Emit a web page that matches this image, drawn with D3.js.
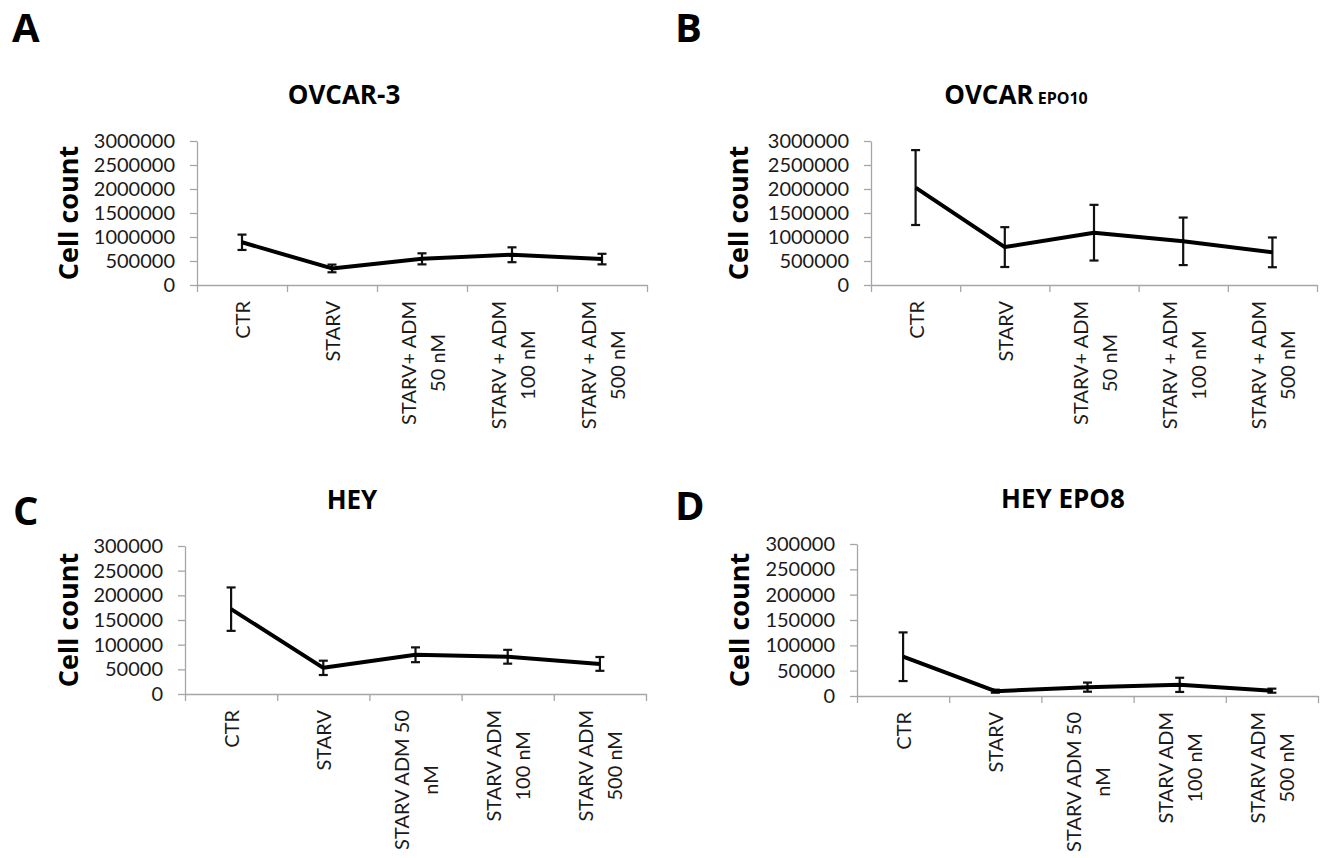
<!DOCTYPE html>
<html>
<head>
<meta charset="utf-8">
<script src="https://cdn.jsdelivr.net/npm/d3@7"></script>
<style>
  body { margin: 0; background: #fff; }
  svg { display: block; }
  text { font-family: "Open Sans", sans-serif; }
  text.tick-label { font-family: Lato, sans-serif; }
</style>
</head>
<body>
<div id="chart"></div>
<script>
// x categories, one entry per text line
const ovcarLabels = [["CTR"], ["STARV"], ["STARV+ ADM", "50 nM"], ["STARV + ADM", "100 nM"], ["STARV + ADM", "500 nM"]];
const heyLabels = [["CTR"], ["STARV"], ["STARV ADM 50", "nM"], ["STARV ADM", "100 nM"], ["STARV ADM", "500 nM"]];

// y tick values
const ovcarTicks = [0, 500000, 1000000, 1500000, 2000000, 2500000, 3000000];
const heyTicks = [0, 50000, 100000, 150000, 200000, 250000, 300000];

// means and error bar half-widths
const ovcar3Mean = [890000, 345000, 545000, 630000, 540000];
const ovcar3Err = [160000, 80000, 115000, 155000, 110000];

const ovcarEpo10Mean = [2030000, 790000, 1090000, 910000, 680000];
const ovcarEpo10Err = [780000, 415000, 580000, 495000, 310000];

const heyMean = [172000, 53000, 79500, 75500, 61000];
const heyErr = [44000, 14500, 15000, 14000, 14000];

const heyEpo8Mean = [77500, 9500, 17500, 22000, 10500];
const heyEpo8Err = [48000, 3000, 9000, 14000, 4000];

const w = 1320;
const h = 858;

const svg = d3.select("#chart")
  .append("svg")
  .attr("width", w)
  .attr("height", h);

// panel placement (pixels)
const panels = [
  { letter: "A", lx: 12, ly: 42, title: "OVCAR-3", small: "", tx: 344, ty: 104,
    x0: 197, x1: 647, y0: 285, y1: 141, yl: 78,
    labels: ovcarLabels, ticks: ovcarTicks, mean: ovcar3Mean, err: ovcar3Err },
  { letter: "B", lx: 675, ly: 42, title: "OVCAR", small: " EPO10", tx: 1016, ty: 104,
    x0: 871, x1: 1317, y0: 285, y1: 141, yl: 748,
    labels: ovcarLabels, ticks: ovcarTicks, mean: ovcarEpo10Mean, err: ovcarEpo10Err },
  { letter: "C", lx: 13, ly: 525, title: "HEY", small: "", tx: 352, ty: 509,
    x0: 185, x1: 646, y0: 694, y1: 546, yl: 78,
    labels: heyLabels, ticks: heyTicks, mean: heyMean, err: heyErr },
  { letter: "D", lx: 675, ly: 520, title: "HEY EPO8", small: "", tx: 1063, ty: 508,
    x0: 857, x1: 1318, y0: 696, y1: 544, yl: 749,
    labels: heyLabels, ticks: heyTicks, mean: heyEpo8Mean, err: heyEpo8Err }
];

panels.forEach(drawPanel);

function drawPanel(p) {
  const g = svg.append("g");

  // panel letter
  g.append("text")
    .attr("x", p.lx)
    .attr("y", p.ly)
    .attr("font-size", 40)
    .attr("font-weight", "bold")
    .text(p.letter);

  // title (with optional small suffix)
  const t = g.append("text")
    .attr("x", p.tx)
    .attr("y", p.ty)
    .attr("text-anchor", "middle")
    .attr("font-size", 26)
    .attr("font-weight", "bold")
    .text(p.title);
  if (p.small) {
    t.append("tspan").attr("font-size", 16).text(p.small);
  }

  const x = d3.scaleLinear().domain([0, p.labels.length]).range([p.x0, p.x1]);
  const y = d3.scaleLinear().domain([0, d3.max(p.ticks)]).range([p.y0, p.y1]);

  const yAxis = d3.axisLeft(y)
    .tickValues(p.ticks)
    .tickFormat(d3.format("d"))
    .tickSize(7)
    .tickSizeOuter(0)
    .tickPadding(15);

  const xAxis = d3.axisBottom(x)
    .tickValues(d3.range(0, p.labels.length + 1))
    .tickFormat("")
    .tickSize(7)
    .tickSizeOuter(0);

  const ya = g.append("g")
    .attr("transform", "translate(" + p.x0 + ",0)")
    .call(yAxis);
  ya.selectAll("text")
    .attr("class", "tick-label")
    .attr("font-size", 20)
    .attr("fill", "#1a1a1a");

  g.append("g")
    .attr("transform", "translate(0," + p.y0 + ")")
    .call(xAxis);

  g.selectAll(".domain, .tick line")
    .attr("stroke", "#a6a6a6")
    .attr("stroke-width", 1.3);

  // rotated category labels, lines centred on each other
  const lab = g.append("g")
    .selectAll("g")
    .data(p.labels)
    .join("g")
    .attr("transform", (d, i) => "translate(" + x(i + 0.5) + "," + p.y0 + ") rotate(-90)");

  lab.each(function (lines) {
    const texts = d3.select(this)
      .selectAll("text")
      .data(lines)
      .join("text")
      .attr("class", "tick-label")
      .attr("text-anchor", "middle")
      .attr("dominant-baseline", "central")
      .attr("font-size", 20)
      .attr("fill", "#1a1a1a")
      .attr("y", (d, j) => (j - (lines.length - 1) / 2) * 29)
      .text(d => d);
    let maxLen = 0;
    texts.each(function () { maxLen = Math.max(maxLen, this.getComputedTextLength()); });
    texts.attr("x", -(16 + maxLen / 2));
  });

  // y axis title
  g.append("text")
    .attr("transform", "translate(" + p.yl + "," + ((p.y0 + p.y1) / 2) + ") rotate(-90)")
    .attr("text-anchor", "middle")
    .attr("font-size", 27)
    .attr("font-weight", "bold")
    .text("Cell count");

  // error bars
  const bars = g.append("g")
    .selectAll("g")
    .data(p.mean)
    .join("g");

  bars.append("line")
    .attr("x1", (d, i) => x(i + 0.5))
    .attr("x2", (d, i) => x(i + 0.5))
    .attr("y1", (d, i) => y(d - p.err[i]))
    .attr("y2", (d, i) => y(d + p.err[i]))
    .attr("stroke", "#111")
    .attr("stroke-width", 2.2);

  [-1, 1].forEach(s => {
    bars.append("line")
      .attr("x1", (d, i) => x(i + 0.5) - 4.5)
      .attr("x2", (d, i) => x(i + 0.5) + 4.5)
      .attr("y1", (d, i) => y(d + s * p.err[i]))
      .attr("y2", (d, i) => y(d + s * p.err[i]))
      .attr("stroke", "#111")
      .attr("stroke-width", 2.2);
  });

  // mean line
  const line = d3.line()
    .x((d, i) => x(i + 0.5))
    .y(d => y(d));

  g.append("path")
    .datum(p.mean)
    .attr("d", line)
    .attr("fill", "none")
    .attr("stroke", "#000")
    .attr("stroke-width", 4)
    .attr("stroke-linejoin", "round");
}
</script>
</body>
</html>
